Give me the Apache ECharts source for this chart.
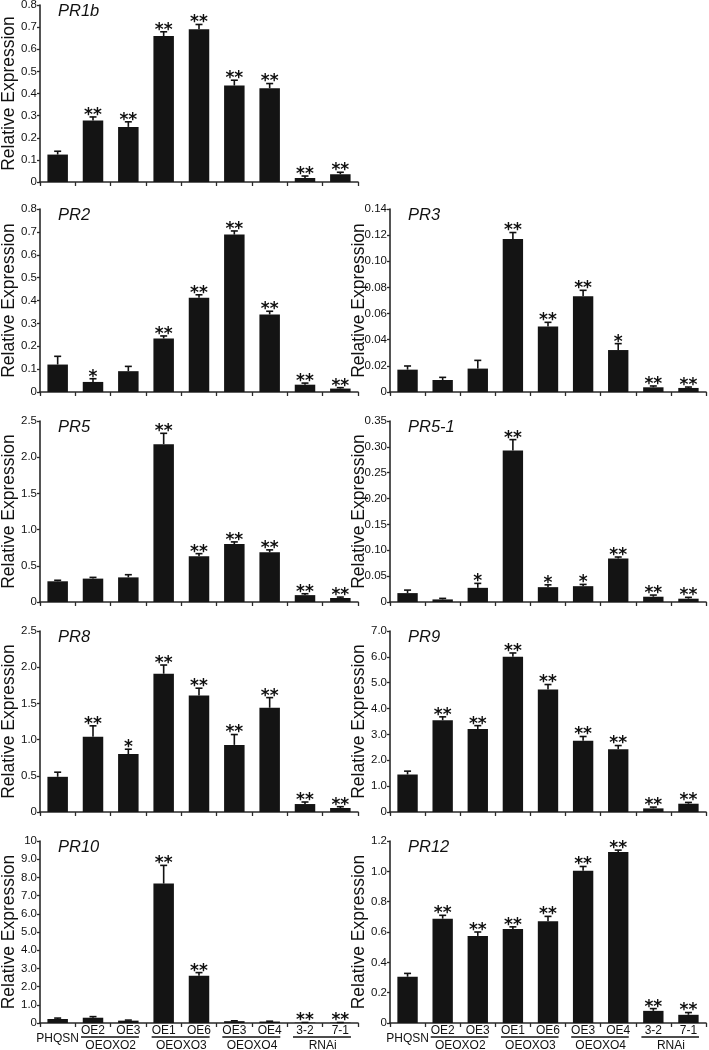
<!DOCTYPE html>
<html><head><meta charset="utf-8">
<script src="https://cdn.jsdelivr.net/npm/echarts@6/dist/echarts.min.js"></script>
<style>html,body{margin:0;padding:0;background:#fff}#c{width:709px;height:1050px}</style>
</head><body><div id="c"></div>
<script>
// ---------- data ----------
const categories = ['PHQSN','OE2','OE3','OE1','OE6','OE3','OE4','3-2','7-1'];
const groupNames = ['OEOXO2','OEOXO3','OEOXO4','RNAi'];
const groupStart = [1,3,5,7];
const groupEnd = [2,4,6,8];

const pr1bValues = [0.124,0.278,0.249,0.660,0.690,0.436,0.424,0.018,0.035];
const pr1bErrors = [0.015,0.016,0.023,0.019,0.022,0.024,0.021,0.009,0.009];
const pr1bSig = ['','**','**','**','**','**','**','**','**'];
const pr1bTicks = ['0','0.1','0.2','0.3','0.4','0.5','0.6','0.7','0.8'];

const pr2Values = [0.120,0.044,0.091,0.234,0.412,0.688,0.339,0.032,0.015];
const pr2Errors = [0.036,0.014,0.021,0.011,0.013,0.016,0.014,0.007,0.004];
const pr2Sig = ['','*','','**','**','**','**','**','**'];
const pr2Ticks = ['0','0.1','0.2','0.3','0.4','0.5','0.6','0.7','0.8'];

const pr3Values = [0.0171,0.0092,0.0179,0.117,0.0502,0.0732,0.0321,0.0036,0.0031];
const pr3Errors = [0.0028,0.0020,0.0063,0.0050,0.0031,0.0046,0.0049,0.0010,0.0007];
const pr3Sig = ['','','','**','**','**','*','**','**'];
const pr3Ticks = ['0','0.02','0.04','0.06','0.08','0.10','0.12','0.14'];

const pr5Values = [0.286,0.323,0.340,2.18,0.632,0.800,0.686,0.095,0.055];
const pr5Errors = [0.014,0.017,0.037,0.15,0.036,0.030,0.034,0.019,0.013];
const pr5Sig = ['','','','**','**','**','**','**','**'];
const pr5Ticks = ['0','0.5','1.0','1.5','2.0','2.5'];

const pr51Values = [0.0172,0.0050,0.0274,0.293,0.0287,0.0306,0.084,0.0102,0.0064];
const pr51Errors = [0.0058,0.0020,0.0086,0.021,0.0045,0.0034,0.0030,0.0032,0.0026];
const pr51Sig = ['','','*','**','*','*','**','**','**'];
const pr51Ticks = ['0','0.05','0.10','0.15','0.20','0.25','0.30','0.35'];

const pr8Values = [0.486,1.04,0.80,1.91,1.61,0.927,1.44,0.110,0.055];
const pr8Errors = [0.064,0.15,0.067,0.12,0.10,0.143,0.14,0.028,0.018];
const pr8Sig = ['','**','*','**','**','**','**','**','**'];
const pr8Ticks = ['0','0.5','1.0','1.5','2.0','2.5'];

const pr9Values = [1.45,3.55,3.21,6.00,4.74,2.76,2.43,0.14,0.32];
const pr9Errors = [0.13,0.13,0.13,0.15,0.19,0.16,0.14,0.05,0.05];
const pr9Sig = ['','**','**','**','**','**','**','**','**'];
const pr9Ticks = ['0','1.0','2.0','3.0','4.0','5.0','6.0','7.0'];

const pr10Values = [0.22,0.29,0.13,7.66,2.59,0.10,0.08,0.02,0.02];
const pr10Errors = [0.05,0.06,0.03,1.00,0.18,0.02,0.02,0.01,0.01];
const pr10Sig = ['','','','**','**','','','**','**'];
const pr10Ticks = ['0','1.0','2.0','3.0','4.0','5.0','6.0','7.0','8.0','9.0','10'];

const pr12Values = [0.305,0.688,0.574,0.619,0.671,1.004,1.127,0.080,0.054];
const pr12Errors = [0.022,0.022,0.026,0.015,0.032,0.028,0.013,0.015,0.015];
const pr12Sig = ['','**','**','**','**','**','**','**','**'];
const pr12Ticks = ['0','0.2','0.4','0.6','0.8','1.0','1.2'];

const geneNames = ['PR1b','PR2','PR3','PR5','PR5-1','PR8','PR9','PR10','PR12'];
const yIntervals = [0.1,0.1,0.02,0.5,0.05,0.5,1,1,0.2];
const valueSets = [pr1bValues,pr2Values,pr3Values,pr5Values,pr51Values,pr8Values,pr9Values,pr10Values,pr12Values];
const errorSets = [pr1bErrors,pr2Errors,pr3Errors,pr5Errors,pr51Errors,pr8Errors,pr9Errors,pr10Errors,pr12Errors];
const sigSets = [pr1bSig,pr2Sig,pr3Sig,pr5Sig,pr51Sig,pr8Sig,pr9Sig,pr10Sig,pr12Sig];
const tickSets = [pr1bTicks,pr2Ticks,pr3Ticks,pr5Ticks,pr51Ticks,pr8Ticks,pr9Ticks,pr10Ticks,pr12Ticks];

// ---------- layout ----------
const layout = [
  {left:40, top:5, width:318, height:177},
  {left:40, top:209, width:318, height:183},
  {left:390, top:209, width:316, height:183},
  {left:40, top:421, width:318, height:181},
  {left:390, top:421, width:316, height:181},
  {left:40, top:631, width:318, height:181},
  {left:390, top:631, width:316, height:181},
  {left:40, top:841, width:318, height:182},
  {left:390, top:841, width:316, height:182}
];
const bottomPanels = [7,8];
const FONT = 'Liberation Sans, Arial, Helvetica, sans-serif';
const INK = '#111';
const AXIS = '#2a2a2a';

const grids = [], xAxes = [], yAxes = [], titles = [], series = [];
layout.forEach((l, i) => {
  const isBottom = bottomPanels.indexOf(i) >= 0;
  const ticks = tickSets[i];
  const iv = yIntervals[i];
  grids.push({left:l.left, top:l.top, width:l.width, height:l.height, containLabel:false, outerBoundsMode:'none'});
  xAxes.push({
    type:'category', gridIndex:i, data:categories,
    axisLine:{show:true, lineStyle:{color:AXIS, width:1.6}},
    axisTick:{show:true, length:4, lineStyle:{color:AXIS, width:1.3}},
    splitLine:{show:false},
    axisLabel:{
      show:isBottom, interval:0, margin:2, color:INK, fontSize:12, fontFamily:FONT,
      formatter:(v) => v === 'PHQSN' ? '{p|' + v + '}' : v,
      rich:{p:{padding:[8,0,0,0], fontSize:12, fontFamily:FONT, color:INK}}
    }
  });
  yAxes.push({
    type:'value', gridIndex:i, min:0, max:iv*(ticks.length-1), interval:iv,
    axisLine:{show:true, lineStyle:{color:AXIS, width:1.6}},
    axisTick:{show:true, length:3, lineStyle:{color:AXIS, width:1.3}},
    splitLine:{show:false},
    axisLabel:{margin:3, color:INK, fontSize:11.5, fontFamily:FONT,
      formatter:(v) => ticks[Math.round(v/iv)]},
    name:'Relative Expression', nameLocation:'middle', nameGap:22, nameMoveOverlap:false,
    nameTextStyle:{fontSize:17.5, color:INK, fontFamily:FONT}
  });
  titles.push({
    text:geneNames[i], left:l.left+18, top:l.top-2, padding:0,
    textStyle:{fontStyle:'italic', fontWeight:'normal', fontSize:16.5, color:INK, fontFamily:FONT}
  });
  series.push({
    type:'bar', xAxisIndex:i, yAxisIndex:i, data:valueSets[i], barWidth:'58%',
    itemStyle:{color:'#141414'}, silent:true, animation:false
  });
  const sigs = sigSets[i];
  series.push({
    type:'custom', xAxisIndex:i, yAxisIndex:i, animation:false, silent:true, z:5,
    data:valueSets[i].map((v, j) => [j, v, errorSets[i][j]]),
    encode:{x:0, y:1},
    renderItem:(params, api) => {
      const x = api.value(0), v = api.value(1), e = api.value(2);
      const b = api.coord([x, v]);
      const t = api.coord([x, v + e]);
      const children = [
        {type:'line', shape:{x1:b[0], y1:b[1], x2:t[0], y2:t[1]}, style:{stroke:INK, lineWidth:1.6}},
        {type:'line', shape:{x1:t[0]-3.5, y1:t[1], x2:t[0]+3.5, y2:t[1]}, style:{stroke:INK, lineWidth:1.6}}
      ];
      const s = sigs[params.dataIndex];
      if (s) {
        children.push({type:'text', x:t[0], y:t[1]+7,
          style:{text:s, align:'center', verticalAlign:'bottom', fontSize:17, fontWeight:'bold', fontFamily:'DejaVu Sans', fill:INK}});
      }
      return {type:'group', children};
    }
  });
  if (isBottom) {
    series.push({
      type:'custom', xAxisIndex:i, yAxisIndex:i, animation:false, silent:true, clip:false,
      data:groupStart.map((s, k) => [s, 0, groupEnd[k]]),
      encode:{x:0, y:1},
      renderItem:(params, api) => {
        const k = params.dataIndex;
        const a = api.coord([api.value(0), 0]);
        const b = api.coord([api.value(2), 0]);
        const w = api.size([1, 0])[0];
        const y0 = a[1];
        return {type:'group', children:[
          {type:'line', shape:{x1:a[0]-0.34*w, y1:y0+14, x2:b[0]+0.3*w, y2:y0+14}, style:{stroke:INK, lineWidth:1.6}},
          {type:'text', x:(a[0]+b[0])/2, y:y0+22.5,
            style:{text:groupNames[k], align:'center', verticalAlign:'middle', fontSize:12, fontFamily:FONT, fill:INK}}
        ]};
      }
    });
  }
});

const chart = echarts.init(document.getElementById('c'), null, {renderer:'canvas'});
chart.setOption({
  animation:false,
  backgroundColor:'#fff',
  title:titles, grid:grids, xAxis:xAxes, yAxis:yAxes, series:series
});
</script>
</body></html>
